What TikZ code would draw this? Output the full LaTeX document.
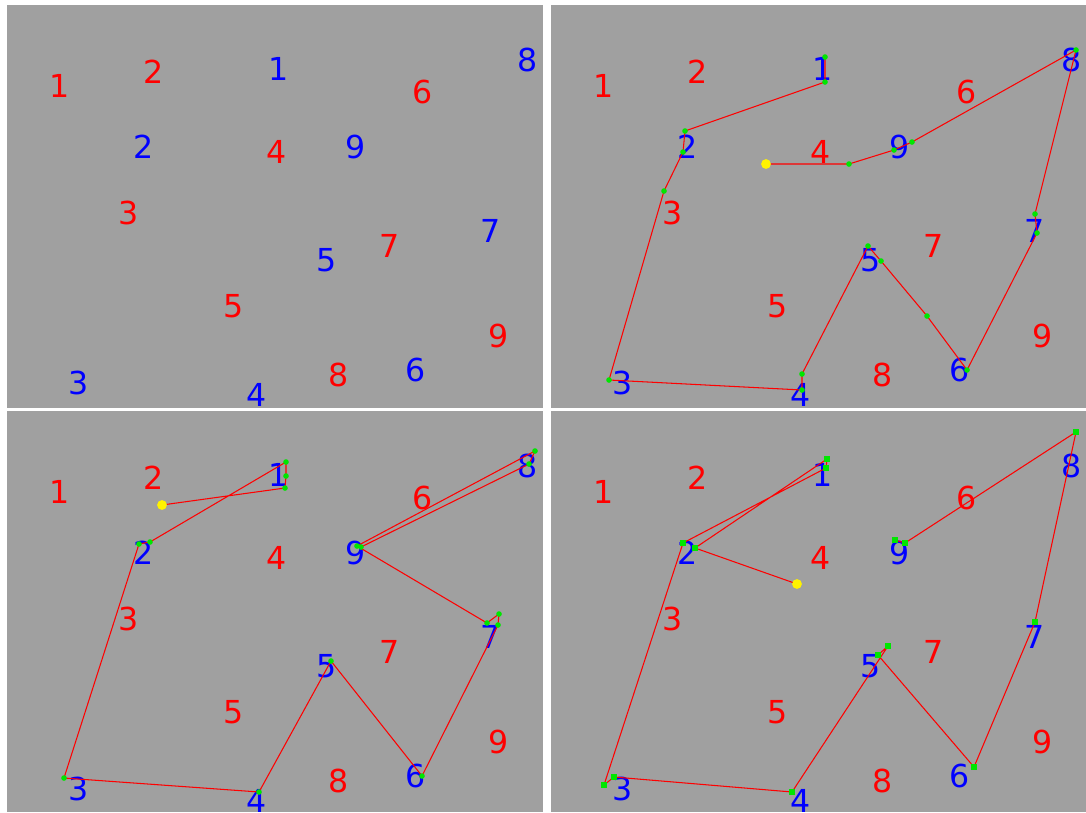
\documentclass[tikz,border=0pt]{standalone}
\usepackage{fontspec}
\setmainfont{DejaVu Sans}
\usepackage{xcolor}
\usepackage{tikz}
\usetikzlibrary{calc}

\definecolor{boardgray}{RGB}{160,160,160}
\definecolor{wpgreen}{RGB}{0,230,0}

% digits of one board, #1 = board prefix
\newcommand{\numfield}[1]{%
  \foreach \n/\px/\py in {1/53/81, 2/147/67, 3/122/208, 4/270/147, 5/227/301,
                          6/416/87, 7/383/241, 8/332/370, 9/492/331}
    \node[redlbl] (#1r\n) at (\px,\py) {\n};
  \foreach \n/\px/\py in {1/272/64, 2/137/142, 3/72/378, 4/250/390, 5/320/255,
                          6/409/365, 7/484/226, 8/521/55, 9/349/142}
    \node[bluelbl] (#1b\n) at (\px,\py) {\n};
}

\begin{document}
\begin{tikzpicture}[
    x=0.02cm, y=-0.02cm,
    lbl/.style={inner sep=0pt, font=\fontsize{18}{18}\selectfont},
    redlbl/.style={lbl, text=red},
    bluelbl/.style={lbl, text=blue},
    board/.style={fill=boardgray},
    track/.style={red, line width=0.6pt, line join=round},
    wpt/.style={fill=wpgreen},
    penpt/.style={fill=yellow}
]
\useasboundingbox (0,0) rectangle (1086,812);

% ════════════════════════════════════════
% BOARDS
% ════════════════════════════════════════
\fill[board] (7,5) rectangle (543,408);
\fill[board] (551,5) rectangle (1086,408);
\fill[board] (7,411) rectangle (543,812);
\fill[board] (551,411) rectangle (1086,812);

\begin{scope}[shift={(7,5)}]     \numfield{a} \end{scope}
\begin{scope}[shift={(551,5)}]   \numfield{b} \end{scope}
\begin{scope}[shift={(7,411)}]   \numfield{c} \end{scope}
\begin{scope}[shift={(551,411)}] \numfield{d} \end{scope}

% ════════════════════════════════════════
% TOP-RIGHT: TRACK
% ════════════════════════════════════════
\coordinate (b0) at (766,164);
\coordinate (b1) at (849,164);
\coordinate (b2) at (894,150);
\coordinate (b3) at (912,142);
\coordinate (b4) at (1076,50);
\coordinate (b5) at (1035,214);
\coordinate (b6) at (1037,233);
\coordinate (b7) at (967,370);
\coordinate (b8) at (927,316);
\coordinate (b9) at (881,261);
\coordinate (b10) at (868,246);
\coordinate (b11) at (802,374);
\coordinate (b12) at (802,390);
\coordinate (b13) at (609,380);
\coordinate (b14) at (664,191);
\coordinate (b15) at (683,152);
\coordinate (b16) at (685,131);
\coordinate (b17) at (825,82);
\coordinate (b18) at (825,57);

\draw[track] (b0) -- (b1) -- (b2) -- (b3) -- (b4) -- (b5) -- (b6) -- (b7)
  -- (b8) -- (b9) -- (b10) -- (b11) -- (b12) -- (b13) -- (b14) -- (b15)
  -- (b16) -- (b17) -- (b18);
\foreach \p in {1,...,18}
  \fill[wpt] (b\p) circle[radius=1.6pt];
\fill[penpt] (b0) circle[radius=2.8pt];

% ════════════════════════════════════════
% BOTTOM-LEFT: TRACK
% ════════════════════════════════════════
\coordinate (c0) at (162,505);
\coordinate (c1) at (285,488);
\coordinate (c2) at (286,476);
\coordinate (c3) at (286,462);
\coordinate (c4) at (150,542);
\coordinate (c5) at (139,544);
\coordinate (c6) at (64,778);
\coordinate (c7) at (259,792);
\coordinate (c8) at (331,661);
\coordinate (c9) at (422,776);
\coordinate (c10) at (498,625);
\coordinate (c11) at (499,614);
\coordinate (c12) at (487,623);
\coordinate (c13) at (357,546);
\coordinate (c14) at (535,451);
\coordinate (c15) at (529,464);
\coordinate (c16) at (361,547);

\draw[track] (c0) -- (c1) -- (c2) -- (c3) -- (c4) -- (c5) -- (c6) -- (c7)
  -- (c8) -- (c9) -- (c10) -- (c11) -- (c12) -- (c13) -- (c14) -- (c15)
  -- (c16);
\foreach \p in {1,...,16}
  \fill[wpt] (c\p) circle[radius=1.6pt];
\fill[penpt] (c0) circle[radius=2.8pt];

% ════════════════════════════════════════
% BOTTOM-RIGHT: TRACK
% ════════════════════════════════════════
\coordinate (d0) at (797,584);
\coordinate (d1) at (695,548);
\coordinate (d2) at (827,459);
\coordinate (d3) at (826,468);
\coordinate (d4) at (683,543);
\coordinate (d5) at (604,785);
\coordinate (d6) at (614,777);
\coordinate (d7) at (792,792);
\coordinate (d8) at (888,646);
\coordinate (d9) at (878,655);
\coordinate (d10) at (974,767);
\coordinate (d11) at (1035,622);
\coordinate (d12) at (1076,432);
\coordinate (d13) at (905,543);
\coordinate (d14) at (895,540);

\draw[track] (d0) -- (d1) -- (d2) -- (d3) -- (d4) -- (d5) -- (d6) -- (d7)
  -- (d8) -- (d9) -- (d10) -- (d11) -- (d12) -- (d13) -- (d14);
\foreach \p in {1,...,14}
  \fill[wpt] ($(d\p)+(-1.6pt,-1.6pt)$) rectangle ++(3.2pt,3.2pt);
\fill[penpt] (d0) circle[radius=2.8pt];

\end{tikzpicture}
\end{document}
